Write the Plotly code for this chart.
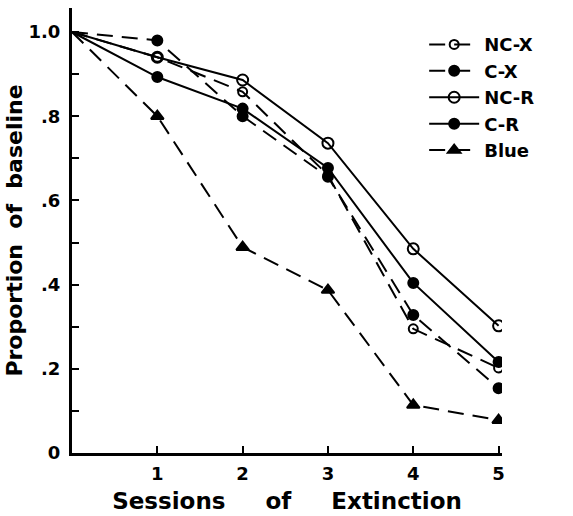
import plotly.graph_objects as go

sessions = [0, 1, 2, 3, 4, 5]
nc_x = [1.0, 0.94, 0.858, 0.66, 0.295, 0.202]
c_x = [1.0, 0.98, 0.80, 0.656, 0.328, 0.154]
nc_r = [1.0, 0.94, 0.886, 0.736, 0.485, 0.302]
c_r = [1.0, 0.893, 0.818, 0.677, 0.404, 0.216]
blue = [1.0, 0.80, 0.489, 0.387, 0.114, 0.078]

y_tickvals = [0, 0.1, 0.2, 0.3, 0.4, 0.5, 0.6, 0.7, 0.8, 0.9, 1.0]
y_ticktext = ["0", "", ".2", "", ".4", "", ".6", "", ".8", "", "1.0"]
x_tickvals = [1, 2, 3, 4, 5]

DASH = "16px,9px"
FONT = "DejaVu Sans"
NB = "\u00a0"

series = [
    ("NC-X", nc_x, DASH, "circle-open", 9),
    ("C-X", c_x, DASH, "circle", 10),
    ("NC-R", nc_r, "solid", "circle-open", 11),
    ("C-R", c_r, "solid", "circle", 10),
    ("Blue", blue, DASH, "triangle-up", 11),
]

fig = go.Figure()
for name, vals, dash, sym, size in series:
    fig.add_trace(go.Scatter(
        x=sessions, y=vals, name=name, mode="lines",
        line=dict(color="black", width=2, dash=dash),
        showlegend=False, legendgroup=name,
    ))
    fig.add_trace(go.Scatter(
        x=sessions[1:], y=vals[1:], name=name, mode="markers",
        marker=dict(symbol=sym, size=size, color="#000000", opacity=1,
                    line=dict(color="#000000", width=2)),
        showlegend=False, legendgroup=name,
    ))
    # legend entry
    fig.add_trace(go.Scatter(
        x=[None], y=[None], name=name, mode="lines+markers",
        line=dict(color="black", width=2, dash=dash),
        marker=dict(symbol=sym, size=size, color="#000000", opacity=1,
                    line=dict(color="#000000", width=2)),
        showlegend=True, legendgroup=name,
    ))

fig.update_layout(
    width=573, height=516,
    margin=dict(l=72, r=71, t=8, b=63),
    plot_bgcolor="white", paper_bgcolor="white",
    font=dict(family=FONT, color="black"),
    showlegend=True,
    legend=dict(
        x=0.819, y=0.959, xanchor="left", yanchor="top",
        font=dict(family=FONT, size=18, color="black", weight="bold"),
        bgcolor="rgba(0,0,0,0)", tracegroupgap=0, itemwidth=50,
    ),
    xaxis=dict(
        range=[0, 5.04], tickvals=x_tickvals, automargin=False,
        ticks="inside", ticklen=7, tickwidth=2, tickcolor="black",
        ticklabelstandoff=2,
        showline=True, linecolor="black", linewidth=3,
        showgrid=False, zeroline=False,
        tickfont=dict(family=FONT, size=18, color="black", weight="bold"),
        title=dict(text="Sessions" + NB * 5 + "of" + NB * 5 + "Extinction",
                   font=dict(family=FONT, size=23, color="black", weight="bold"),
                   standoff=11),
    ),
    yaxis=dict(
        range=[0, 1.057], tickvals=y_tickvals, ticktext=y_ticktext, automargin=False,
        ticks="inside", ticklen=7, tickwidth=2, tickcolor="black",
        ticklabelstandoff=5,
        showline=True, linecolor="black", linewidth=3,
        showgrid=False, zeroline=False,
        tickfont=dict(family=FONT, size=18, color="black", weight="bold"),
        title=dict(text="Proportion" + NB * 2 + "of" + NB * 2 + "baseline",
                   font=dict(family=FONT, size=22, color="black", weight="bold"),
                   standoff=0),
    ),
)

fig.write_html("out.html", config={"displayModeBar": False},
               post_script="document.body.style.margin='0px';")
